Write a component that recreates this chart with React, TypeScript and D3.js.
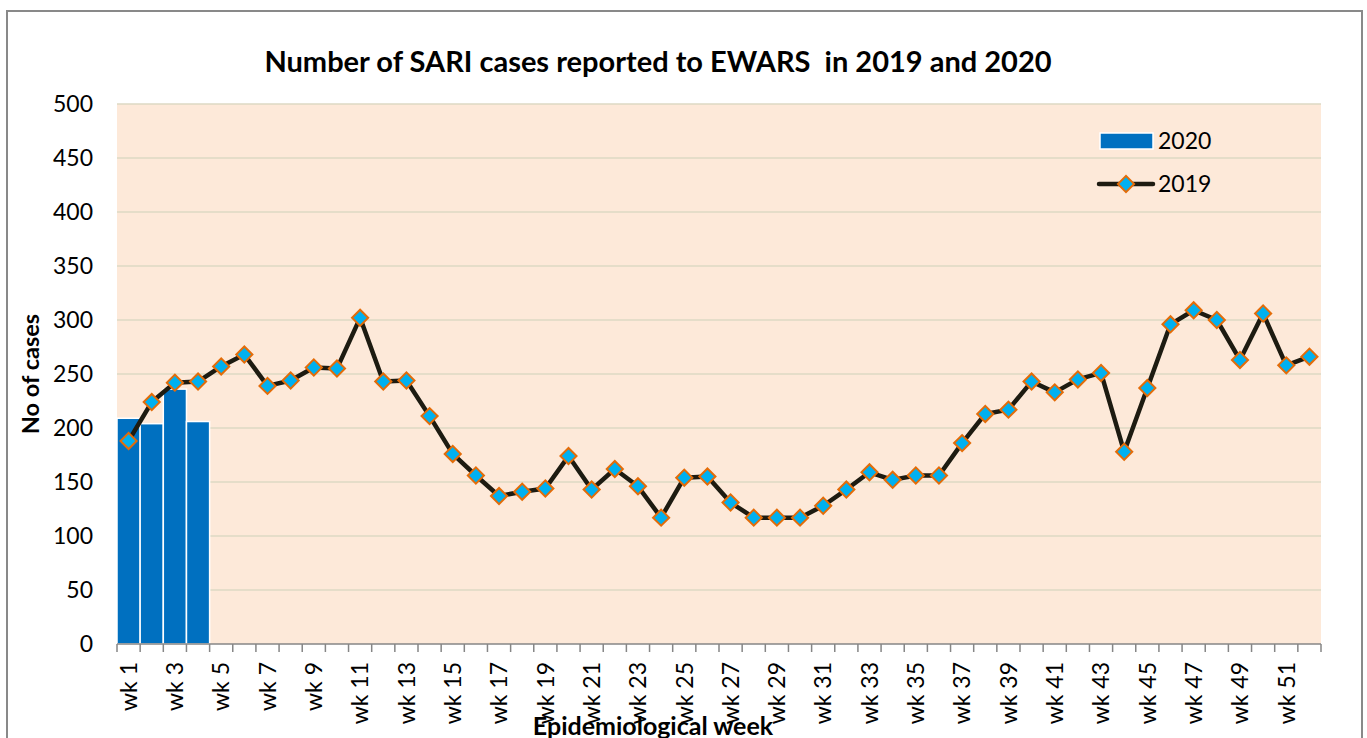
import { useEffect, useRef } from 'react';
import * as d3 from 'd3';

// data
const weeks: string[] = d3.range(1, 53).map((w) => `wk ${w}`);
const cases2020: number[] = [209, 204, 236, 206];
const cases2019: number[] = [
  188, 224, 242, 243, 257, 268, 239, 244, 256, 255,
  302, 243, 244, 211, 176, 156, 137, 141, 144, 174,
  143, 162, 146, 117, 154, 155, 131, 117, 117, 117,
  128, 143, 159, 152, 156, 156, 186, 213, 217, 243,
  233, 245, 251, 178, 237, 296, 309, 300, 263, 306,
  258, 266,
];
const yTicks: number[] = d3.range(0, 501, 50);

const W = 1367;
const H = 738;
const FONT = 'Lato, "Open Sans", sans-serif';

const App = () => {
  const svgRef = useRef<any>(null);

  useEffect(() => {
    const svg = d3.select(svgRef.current);
    svg.selectAll('*').remove();

    const margin = { top: 104, right: 46, bottom: 94, left: 117 };
    const width = W - margin.left - margin.right;
    const height = H - margin.top - margin.bottom;

    // outer chart frame
    svg.append('rect')
      .attr('x', 7).attr('y', 11)
      .attr('width', 1355).attr('height', 760)
      .attr('fill', '#fff')
      .attr('stroke', '#898989')
      .attr('stroke-width', 2);

    const x = d3.scaleBand<string>().domain(weeks).range([0, width]).padding(0);
    const y = d3.scaleLinear().domain([0, 500]).range([height, 0]);

    const g = svg.append('g').attr('transform', `translate(${margin.left},${margin.top})`);

    // plot background
    g.append('rect')
      .attr('width', width).attr('height', height)
      .attr('fill', '#fde9d9');

    // grid
    g.selectAll('.grid')
      .data(yTicks.filter((t) => t > 0))
      .join('line')
      .attr('x1', 0).attr('x2', width)
      .attr('y1', (d) => y(d)).attr('y2', (d) => y(d))
      .attr('stroke', '#ddd9c3')
      .attr('stroke-width', 1.5);

    // y labels
    g.selectAll('.ylab')
      .data(yTicks)
      .join('text')
      .attr('x', -24)
      .attr('y', (d) => y(d))
      .attr('dy', '0.36em')
      .attr('text-anchor', 'end')
      .attr('font-family', FONT)
      .attr('font-size', 23)
      .attr('fill', '#000')
      .text((d) => d);

    // 2020 bars
    g.selectAll('.bar')
      .data(cases2020)
      .join('rect')
      .attr('x', (d, i) => x(weeks[i])!)
      .attr('y', (d) => y(d))
      .attr('width', x.bandwidth())
      .attr('height', (d) => height - y(d))
      .attr('fill', '#0070c0')
      .attr('stroke', '#fff')
      .attr('stroke-width', 1.5);

    // x axis
    const axisG = g.append('g').attr('transform', `translate(0,${height})`);
    axisG.append('line')
      .attr('x1', 0).attr('x2', width)
      .attr('stroke', '#868686').attr('stroke-width', 1.5);
    axisG.selectAll('.tick')
      .data(d3.range(0, weeks.length + 1))
      .join('line')
      .attr('x1', (i) => i * x.step()).attr('x2', (i) => i * x.step())
      .attr('y1', 0).attr('y2', 8)
      .attr('stroke', '#868686').attr('stroke-width', 1.5);
    axisG.selectAll('.xlab')
      .data(weeks.filter((d, i) => i % 2 === 0))
      .join('text')
      .attr('transform', (d) => `translate(${x(d)! + x.bandwidth() / 2},18) rotate(-90)`)
      .attr('dy', '0.36em')
      .attr('text-anchor', 'end')
      .attr('font-family', FONT)
      .attr('font-size', 23)
      .attr('fill', '#000')
      .text((d) => d);

    // 2019 line
    const line = d3.line<number>()
      .x((d, i) => x(weeks[i])! + x.bandwidth() / 2)
      .y((d) => y(d));
    g.append('path')
      .datum(cases2019)
      .attr('d', line)
      .attr('fill', 'none')
      .attr('stroke', '#1d1b11')
      .attr('stroke-width', 4.5)
      .attr('stroke-linejoin', 'round');

    const diamond = d3.symbol().type(d3.symbolSquare).size(130);
    g.selectAll('.pt')
      .data(cases2019)
      .join('path')
      .attr('d', diamond)
      .attr('transform', (d, i) => `translate(${x(weeks[i])! + x.bandwidth() / 2},${y(d)}) rotate(45)`)
      .attr('fill', '#00b0f0')
      .attr('stroke', '#e36c09')
      .attr('stroke-width', 2);

    // legend
    const lg = svg.append('g').attr('font-family', FONT).attr('font-size', 23);
    lg.append('rect')
      .attr('x', 1100).attr('y', 133).attr('width', 53).attr('height', 16)
      .attr('fill', '#0070c0').attr('stroke', '#fff').attr('stroke-width', 1.5);
    lg.append('text').attr('x', 1158).attr('y', 141).attr('dy', '0.36em').text('2020');
    lg.append('line')
      .attr('x1', 1099).attr('x2', 1153).attr('y1', 184).attr('y2', 184)
      .attr('stroke', '#1d1b11').attr('stroke-width', 4.5).attr('stroke-linecap', 'round');
    lg.append('path')
      .attr('d', diamond)
      .attr('transform', 'translate(1126,184) rotate(45)')
      .attr('fill', '#00b0f0').attr('stroke', '#e36c09').attr('stroke-width', 2);
    lg.append('text').attr('x', 1158).attr('y', 184).attr('dy', '0.36em').text('2019');

    // titles
    svg.append('text')
      .attr('x', 658).attr('y', 72)
      .attr('text-anchor', 'middle')
      .attr('font-family', FONT).attr('font-weight', 'bold').attr('font-size', 29)
      .style('white-space', 'pre')
      .text('Number of SARI cases reported to EWARS  in 2019 and 2020');
    svg.append('text')
      .attr('transform', `translate(39,${margin.top + height / 2}) rotate(-90)`)
      .attr('text-anchor', 'middle')
      .attr('font-family', FONT).attr('font-weight', 'bold').attr('font-size', 23.5)
      .text('No of cases');
    svg.append('text')
      .attr('x', 653).attr('y', 735)
      .attr('text-anchor', 'middle')
      .attr('font-family', FONT).attr('font-weight', 'bold').attr('font-size', 25)
      .text('Epidemiological week');
  }, []);

  return (
    <svg
      ref={svgRef}
      width={W}
      height={H}
      style={{ position: 'absolute', left: 0, top: 0, background: '#fff' }}
    />
  );
};

export default App;
